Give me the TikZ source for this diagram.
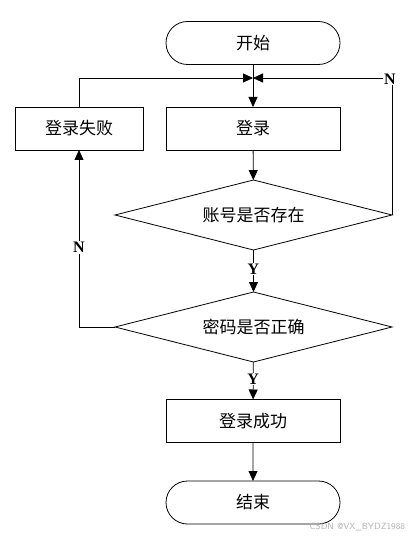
\documentclass[tikz,border=0pt]{standalone}
\usepackage{fontspec}
\setmainfont{Liberation Serif}
\newfontfamily\cjk{Noto Sans CJK SC}
\usetikzlibrary{arrows.meta,shapes.geometric,shapes.misc}
\begin{document}
\begin{tikzpicture}[x=1pt,y=-1pt,
  every node/.style={inner sep=0pt, outer sep=0pt},
  line/.style={draw=black, line width=0.8pt},
  arr/.style={line, -{Triangle[length=10pt,width=9pt]}},
  txt/.style={font=\cjk\fontsize{17}{19}\selectfont},
  term/.style={line, txt, rounded rectangle, minimum width=174pt, minimum height=43pt},
  proc/.style={line, txt, rectangle, minimum height=43pt},
  dec/.style={line, txt, diamond, aspect=3.95, minimum width=277pt, minimum height=70pt},
  lab/.style={font=\bfseries\fontsize{16}{18}\selectfont, fill=white, inner sep=1pt}
]
\useasboundingbox (0,0) rectangle (407,540);
\node[term] (start) at (253,43) {开始};
\node[proc, minimum width=174pt] (login) at (253,128.5) {登录};
\node[proc, minimum width=128pt] (fail) at (79,128.5) {登录失败};
\node[dec] (d1) at (253.5,215) {账号是否存在};
\node[dec] (d2) at (253.5,327) {密码是否正确};
\node[proc, minimum width=174pt] (ok) at (253,421) {登录成功};
\node[term] (end) at (253,502.5) {结束};
\coordinate (m) at (253,78);
\coordinate (fl) at (79,78);
\coordinate (rc) at (392,78);
\coordinate (lc) at (79,327);
% main flow
\draw[line] (start) -- (m);
\draw[arr] (m) -- (login);
\draw[arr] (login) -- (d1);
\draw[arr] (d1) -- node[lab, pos=0.45] (y1) {Y} (d2);
\draw[arr] (d2) -- node[lab, pos=0.45] (y2) {Y} (ok);
\draw[arr] (ok) -- (end);
% N from d1
\draw[arr] (d1.east) -- (rc) -- (m);
\node[lab] (n1) at (390,79) {N};
% N from d2
\draw[arr] (d2.west) -- (lc) -- node[lab, pos=0.45] (n2) {N} (fail.south);
\draw[arr] (fail.north) -- (fl) -- (m);
\node[font=\sffamily\fontsize{9}{10}\selectfont, text=black!30, anchor=east] (wm) at (405,527) {CSDN @VX\_BYDZ1988};
\end{tikzpicture}
\end{document}
